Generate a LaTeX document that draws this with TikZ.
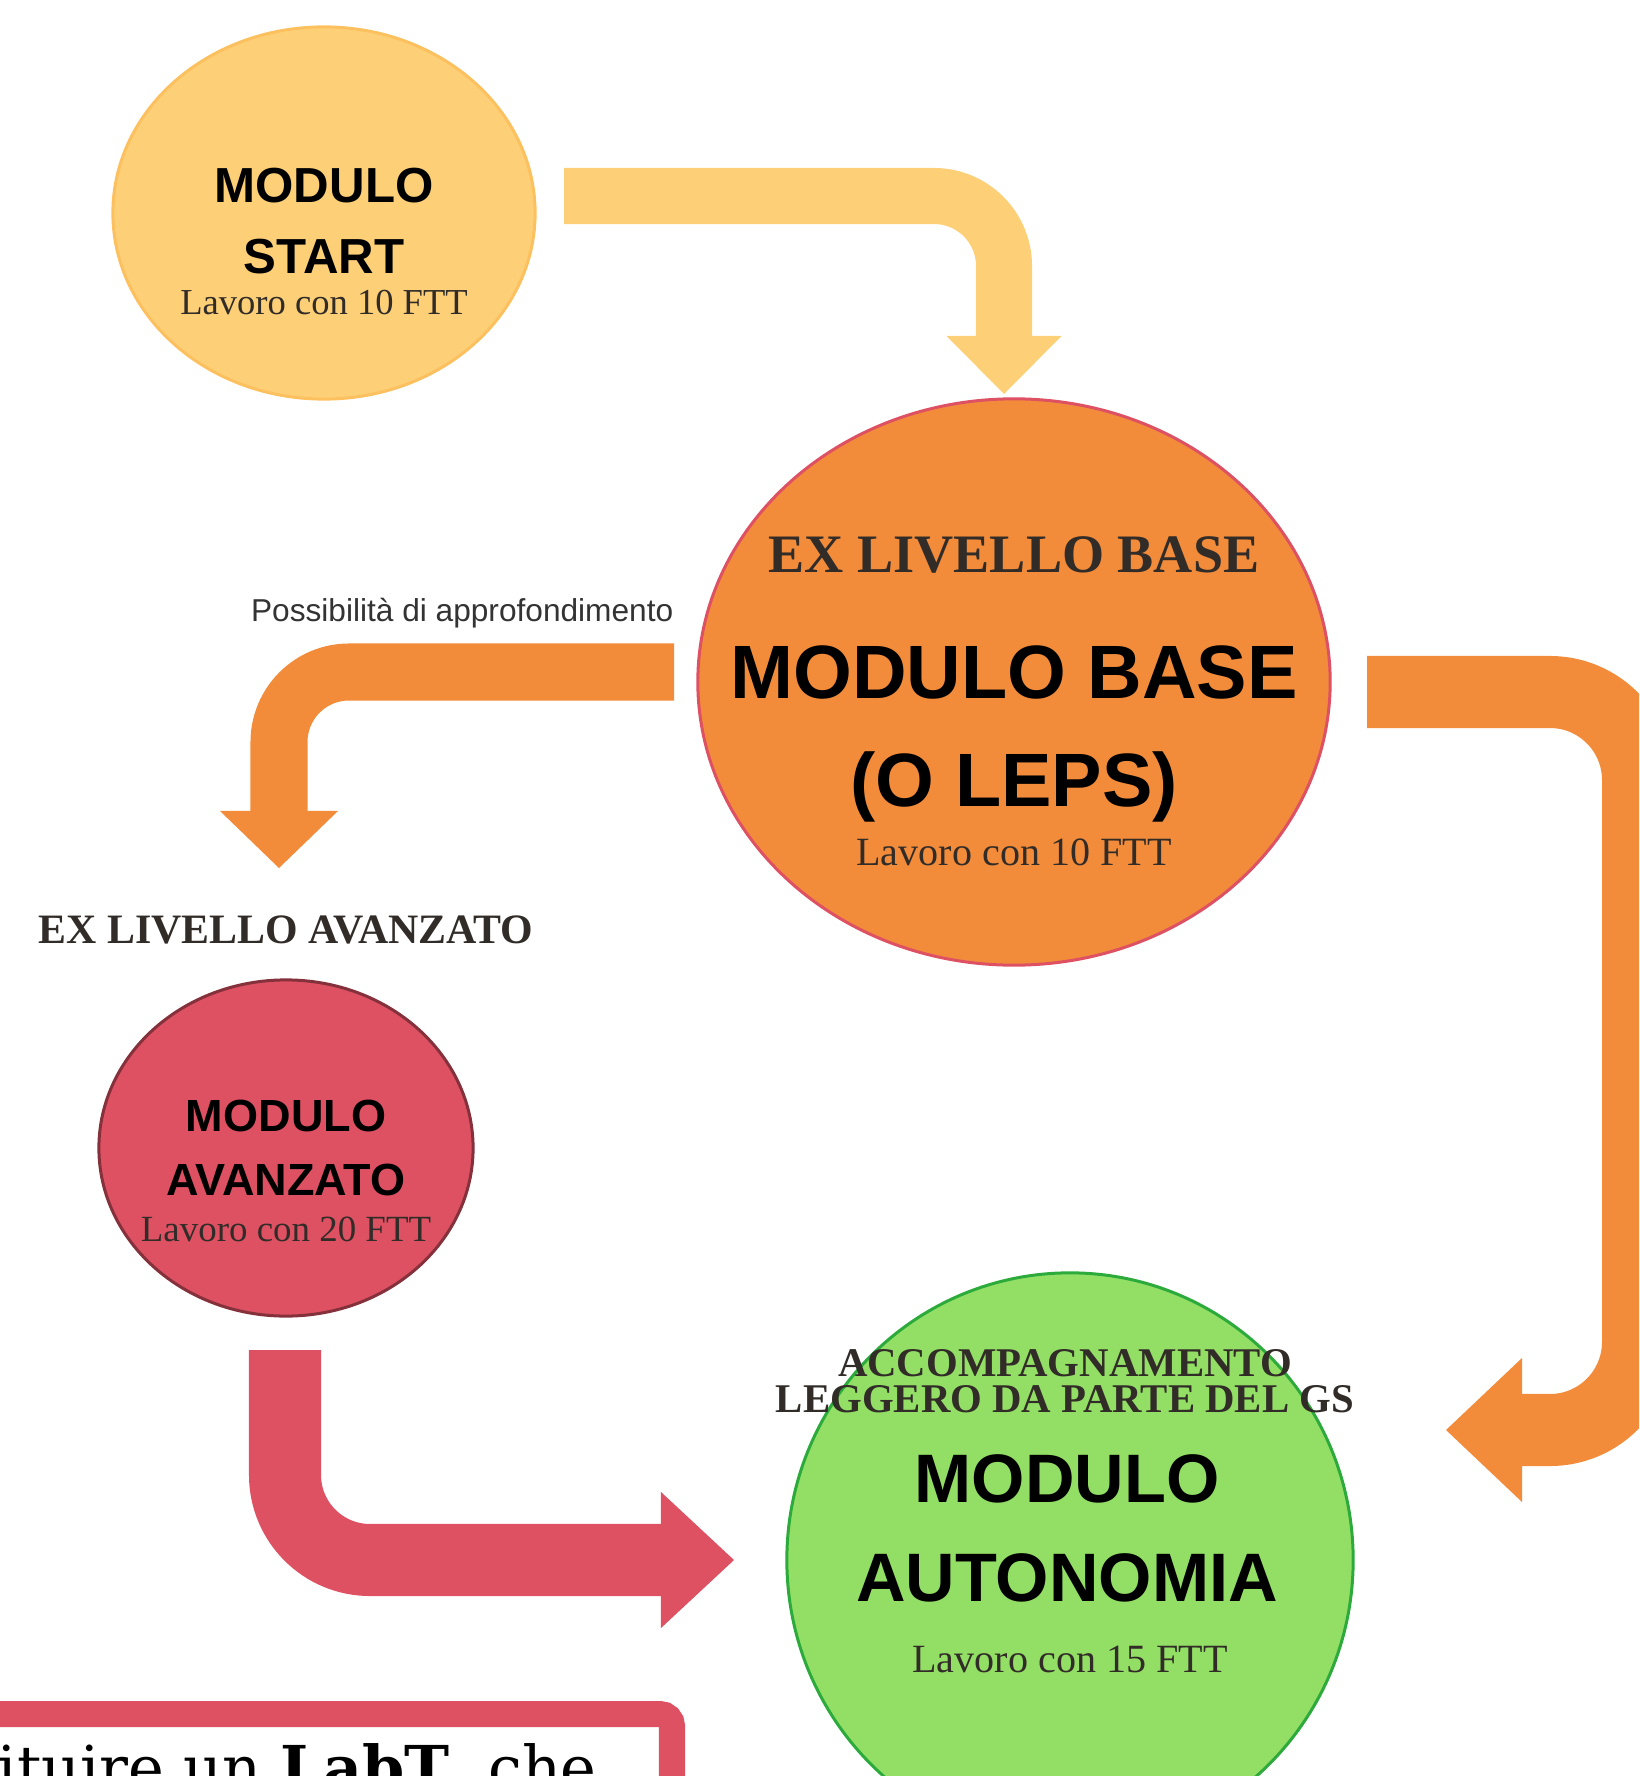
\documentclass[tikz,border=0pt]{standalone}
\usepackage{fontspec}
\setmainfont{Liberation Serif}
\setsansfont{Liberation Sans}
\newfontfamily\labfont{DejaVu Serif}
\usetikzlibrary{arrows.meta,positioning,shapes.geometric,calc}

\definecolor{giallo}{RGB}{253,208,119}
\definecolor{arancio}{RGB}{242,140,59}
\definecolor{rosso}{RGB}{221,81,99}
\definecolor{verde}{RGB}{147,223,102}
\definecolor{verdebordo}{RGB}{45,170,60}
\definecolor{testo}{RGB}{50,44,40}

\begin{document}
\begin{tikzpicture}[x=0.01cm,y=-0.01cm,
            modulo/.style={ellipse,inner sep=0pt,line width=0.3mm},
            titolo/.style={font=\sffamily\bfseries,align=center,inner sep=0pt},
            lavoro/.style={text=testo,inner sep=0pt},
            ex/.style={font=\bfseries,text=testo,align=center,inner sep=0pt},
            freccia/.style n args={4}{line width=#1,rounded corners=#2,-{Triangle[length=#3,width=#4,line width=0pt]}},
            labbox/.style={draw=rosso,fill=white,line width=2.6mm,rounded corners=1.2mm}
          ]
          \useasboundingbox (0,0) rectangle (1639,1776);
          \clip (0,0) rectangle (1639,1776);

          \node[modulo,fill=giallo,draw=giallo!80!orange,minimum width=4.22cm,minimum height=3.72cm] (start) at (324,213) {};
          \node[modulo,fill=arancio,draw=rosso,minimum width=6.32cm,minimum height=5.66cm] (base) at (1014,682) {};
          \node[modulo,fill=rosso,draw=rosso!60!black,minimum width=3.74cm,minimum height=3.36cm] (avanzato) at (286,1148) {};
          \node[modulo,fill=verde,draw=verdebordo,minimum width=5.66cm,minimum height=5.74cm] (autonomia) at (1070,1560) {};

          %testi nei cerchi
          \node[titolo,font=\sffamily\bfseries\fontsize{14}{20}\selectfont] (startT) at ($(start)+(0,8)$) {MODULO\\START};
          \node[lavoro,font=\fontsize{10.4}{12}\selectfont] (startL) at ($(start)+(0,90)$) {Lavoro con 10 FTT};

          \node[ex,font=\bfseries\fontsize{15.4}{18}\selectfont] (baseE) at ($(base)+(0,-127)$) {EX LIVELLO BASE};
          \node[titolo,font=\sffamily\bfseries\fontsize{21.5}{30.7}\selectfont] (baseT) at ($(base)+(0,52)$) {MODULO BASE\\(O LEPS)};
          \node[lavoro,font=\fontsize{11.4}{13}\selectfont] (baseL) at ($(base)+(0,170)$) {Lavoro con 10 FTT};

          \node[titolo,font=\sffamily\bfseries\fontsize{12.8}{18.2}\selectfont] (avanzatoT) at (avanzato) {MODULO\\AVANZATO};
          \node[lavoro,font=\fontsize{10.5}{12}\selectfont] (avanzatoL) at ($(avanzato)+(0,81)$) {Lavoro con 20 FTT};

          \node[ex,font=\bfseries\fontsize{11.6}{10.2}\selectfont] (autonomiaE) at ($(autonomia)+(-5,-179)$) {ACCOMPAGNAMENTO\\LEGGERO DA PARTE DEL GS};
          \node[titolo,font=\sffamily\bfseries\fontsize{19.5}{28.2}\selectfont] (autonomiaT) at ($(autonomia)+(-3,-32)$) {MODULO\\AUTONOMIA};
          \node[lavoro,font=\fontsize{11.4}{13}\selectfont] (autonomiaL) at ($(autonomia)+(0,99)$) {Lavoro con 15 FTT};

          %frecce
          \coordinate (g1) at (564,196);
          \coordinate (g2) at (1004,196);
          \coordinate (g3) at (1004,394);
          \draw[freccia={5.6mm}{7mm}{5.8mm}{11.5mm},draw=giallo] (g1) -- (g2) -- (g3);

          \coordinate (a1) at (674,672);
          \coordinate (a2) at (279,672);
          \coordinate (a3) at (279,868);
          \draw[freccia={5.7mm}{7mm}{5.7mm}{11.8mm},draw=arancio] (a1) -- (a2) -- (a3);

          \coordinate (b1) at (1367,692);
          \coordinate (b2) at (1638,692);
          \coordinate (b3) at (1638,1430);
          \coordinate (b4) at (1446,1430);
          \draw[freccia={7.2mm}{8.8mm}{7.6mm}{14.4mm},draw=arancio] (b1) -- (b2) -- (b3) -- (b4);

          \coordinate (r1) at (285,1350);
          \coordinate (r2) at (285,1560);
          \coordinate (r3) at (734,1560);
          \draw[freccia={7.2mm}{8.5mm}{7.3mm}{13.6mm},draw=rosso] (r1) -- (r2) -- (r3);

          %labels
          \node[above left=0.43cm and 0cm of a1,inner sep=0pt,font=\sffamily\fontsize{9}{11}\selectfont,text=black!80] (approf) {Possibilità di approfondimento};
          \node[ex,above=0.34cm of avanzato,font=\bfseries\fontsize{11.9}{14}\selectfont] (avanzatoE) {EX LIVELLO AVANZATO};

          %riquadro
          \node[labbox,anchor=north east,minimum width=9cm,minimum height=2cm] (labt) at (685,1701) {};
          \node[anchor=base west,inner sep=0pt,font=\labfont\fontsize{17.2}{20}\selectfont] (labtxt) at (-3,1789) {ituire un \textbf{LabT}, che};
      \end{tikzpicture}
\end{document}
